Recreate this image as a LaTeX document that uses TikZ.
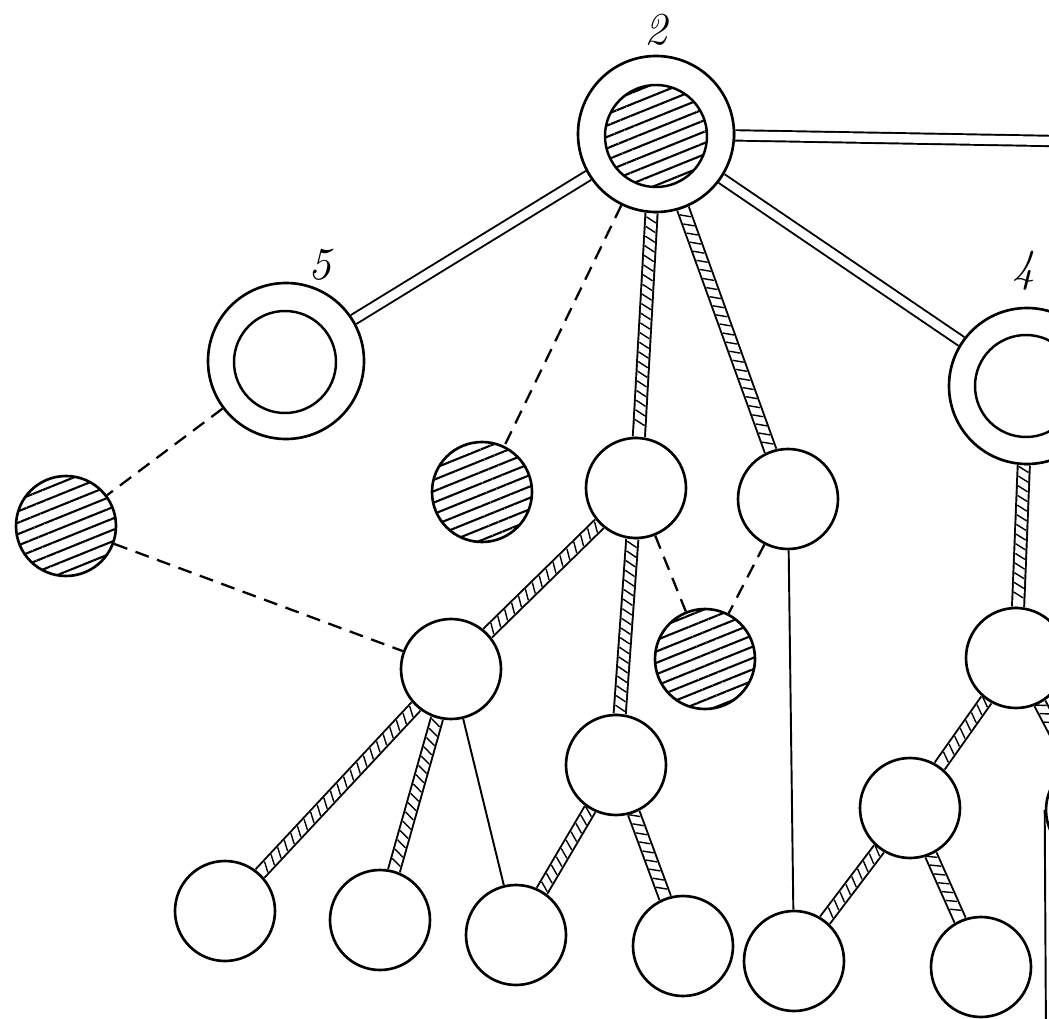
\documentclass[tikz,border=0pt]{standalone}
\usepackage{tikz}
\usetikzlibrary{patterns.meta,decorations.markings,backgrounds}

\tikzset{
  ball/.style={circle, draw, line width=1.5pt, minimum size=20mm, inner sep=0pt},
  ring/.style={circle, draw, line width=1.5pt, minimum size=31.2mm, inner sep=0pt},
  core/.style={circle, draw, line width=1.4pt, minimum size=20.4mm, inner sep=0pt},
  hatch/.style={pattern={Lines[angle=22,distance=6pt,line width=1.2pt]}},
  bond/.style={double, double distance=4.8pt, line width=1.1pt},
  link/.style={line width=1.3pt, dash pattern=on 8pt off 5pt},
  wire/.style={line width=1.1pt},
  rope/.style={line width=5.8pt, white,
    preaction={draw, black, line width=8pt},
    postaction={decorate, decoration={markings,
      mark=between positions 0.03 and 0.97 step 5.5pt with
        {\draw[black, line width=0.8pt] (-1.6pt,-2.8pt) -- (1.6pt,2.8pt);}}}},
  tag/.style={font=\fontsize{26}{26}\selectfont\itshape}
}

\begin{document}
\begin{tikzpicture}[x=0.2mm, y=-0.2mm]
  \useasboundingbox (0,0) rectangle (1049,1019);
  \clip (0,0) rectangle (1049,1019);

  % double circles
  \node[ring] (n2) at (656,134) {};
  \node[core, hatch] (n2c) at (656,136) {};
  \node[ring] (n5) at (286,361) {};
  \node[core] (n5c) at (285,362) {};
  \node[ring] (n4) at (1027,386) {};
  \node[core] (n4c) at (1026,386) {};

  \node[tag] (lab2) at (656,30) {2};
  \node[tag] (lab5) at (320,265) {5};
  \node[tag] (lab4) at (1024,271) {4};

  % small circles
  \node[ball, hatch] (a) at (66,526) {};
  \node[ball, hatch] (b) at (482,492) {};
  \node[ball] (c) at (636,488) {};
  \node[ball] (d) at (788,499) {};
  \node[ball, hatch] (e) at (705,659) {};
  \node[ball] (f) at (451,669) {};
  \node[ball] (g) at (616,765) {};
  \node[ball] (h) at (1016,658) {};
  \node[ball] (i) at (910,808) {};
  \node[ball] (k) at (1096,810) {};

  % bottom row
  \node[ball] (j1) at (225,911) {};
  \node[ball] (j2) at (380,920) {};
  \node[ball] (j3) at (516,935) {};
  \node[ball] (j4) at (683,946) {};
  \node[ball] (j5) at (794,961) {};
  \node[ball] (j6) at (981,967) {};

  \coordinate (east) at (1110,142);
  \coordinate (kend) at (1046,1040);

  % connectors
  \begin{scope}[on background layer]
    \clip (0,0) rectangle (1049,1019);
    \draw[bond] (n2) -- (n5);
    \draw[bond] (n2) -- (n4);
    \draw[bond] (n2) -- (east);
    \draw[link] (n2) -- (b);
    \draw[link] (n5) -- (a);
    \draw[link] (a) -- (f);
    \draw[link] (c) -- (e);
    \draw[link] (d) -- (e);
    \draw[wire] (d) -- (j5);
    \draw[wire] (f) -- (j3);
    \draw[wire] (k.west) -- (kend);
    \draw[rope] (n2) -- (c);
    \draw[rope] (n2) -- (d);
    \draw[rope] (c) -- (f);
    \draw[rope] (c) -- (g);
    \draw[rope] (f) -- (j1);
    \draw[rope] (f) -- (j2);
    \draw[rope] (g) -- (j3);
    \draw[rope] (g) -- (j4);
    \draw[rope] (n4) -- (h);
    \draw[rope] (h) -- (i);
    \draw[rope] (h) -- (k);
    \draw[rope] (i) -- (j5);
    \draw[rope] (i) -- (j6);
  \end{scope}
\end{tikzpicture}
\end{document}
